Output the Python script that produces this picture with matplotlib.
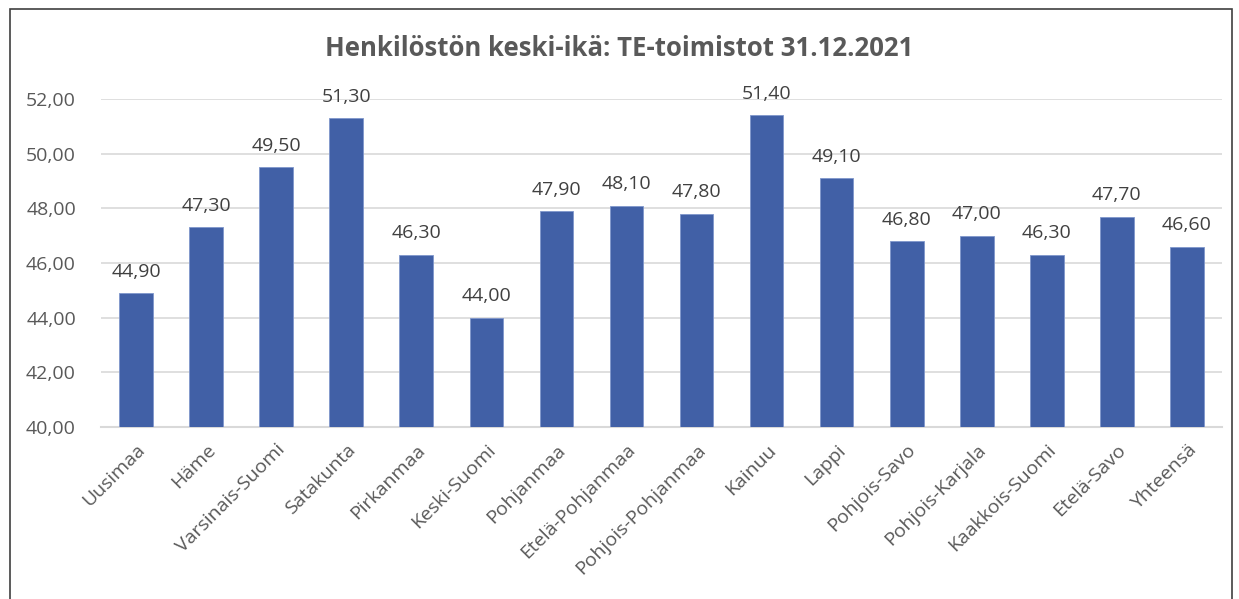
import matplotlib
matplotlib.use("Agg")
import matplotlib.pyplot as plt
from matplotlib.patches import Rectangle

regions = ["Uusimaa", "Häme", "Varsinais-Suomi", "Satakunta", "Pirkanmaa",
           "Keski-Suomi", "Pohjanmaa", "Etelä-Pohjanmaa", "Pohjois-Pohjanmaa",
           "Kainuu", "Lappi", "Pohjois-Savo", "Pohjois-Karjala",
           "Kaakkois-Suomi", "Etelä-Savo", "Yhteensä"]
ages = [44.9, 47.3, 49.5, 51.3, 46.3, 44.0, 47.9, 48.1, 47.8,
        51.4, 49.1, 46.8, 47.0, 46.3, 47.7, 46.6]
yticks = [40, 42, 44, 46, 48, 50, 52]

plt.rcParams['font.family'] = ['Open Sans', 'DejaVu Sans']
grey = '#595959'

fig = plt.figure(figsize=(12.39, 5.99), dpi=100)
ax = fig.add_axes([101/1239, 1 - 427/599, (1222-101)/1239, (427-99)/599])

x = list(range(len(regions)))
ax.bar(x, [a - 40 for a in ages], bottom=40, width=0.48, color='#4160A6',
       edgecolor='#7F96CC', linewidth=0.6, zorder=3)
for xi, a in zip(x, ages):
    ax.annotate(f"{a:.2f}".replace('.', ','), (xi, a), xytext=(0, 9),
                textcoords='offset points', ha='center', va='bottom',
                fontsize=14, color='#404040')

ax.set_xlim(-0.5, len(regions) - 0.5)
ax.set_ylim(40, 52)
ax.set_yticks(yticks)
ax.set_yticklabels([f"{t:.2f}".replace('.', ',') for t in yticks], fontsize=14, color=grey)
ax.set_xticks(x)
ax.set_xticklabels(regions, rotation=45, ha='right', rotation_mode='anchor',
                   fontsize=14, color=grey)
ax.tick_params(axis='both', length=0)
ax.tick_params(axis='y', pad=18)
ax.tick_params(axis='x', pad=10)
ax.grid(axis='y', color='#D9D9D9', linewidth=1.2, zorder=0)
for s in ['top', 'right', 'left']:
    ax.spines[s].set_visible(False)
ax.spines['bottom'].set_color('#D9D9D9')
ax.spines['bottom'].set_linewidth(1.5)

fig.text(0.5, 1 - 48/599, "Henkilöstön keski-ikä: TE-toimistot 31.12.2021",
         ha='center', va='center', fontsize=18.5, fontweight='bold', color=grey)

fig.patches.append(Rectangle((10/1239, -0.05), (1232-10)/1239, 1.05 - 9/599,
                             transform=fig.transFigure, fill=False,
                             edgecolor='#404040', linewidth=1.2))

fig.savefig("out.png", dpi=100)
